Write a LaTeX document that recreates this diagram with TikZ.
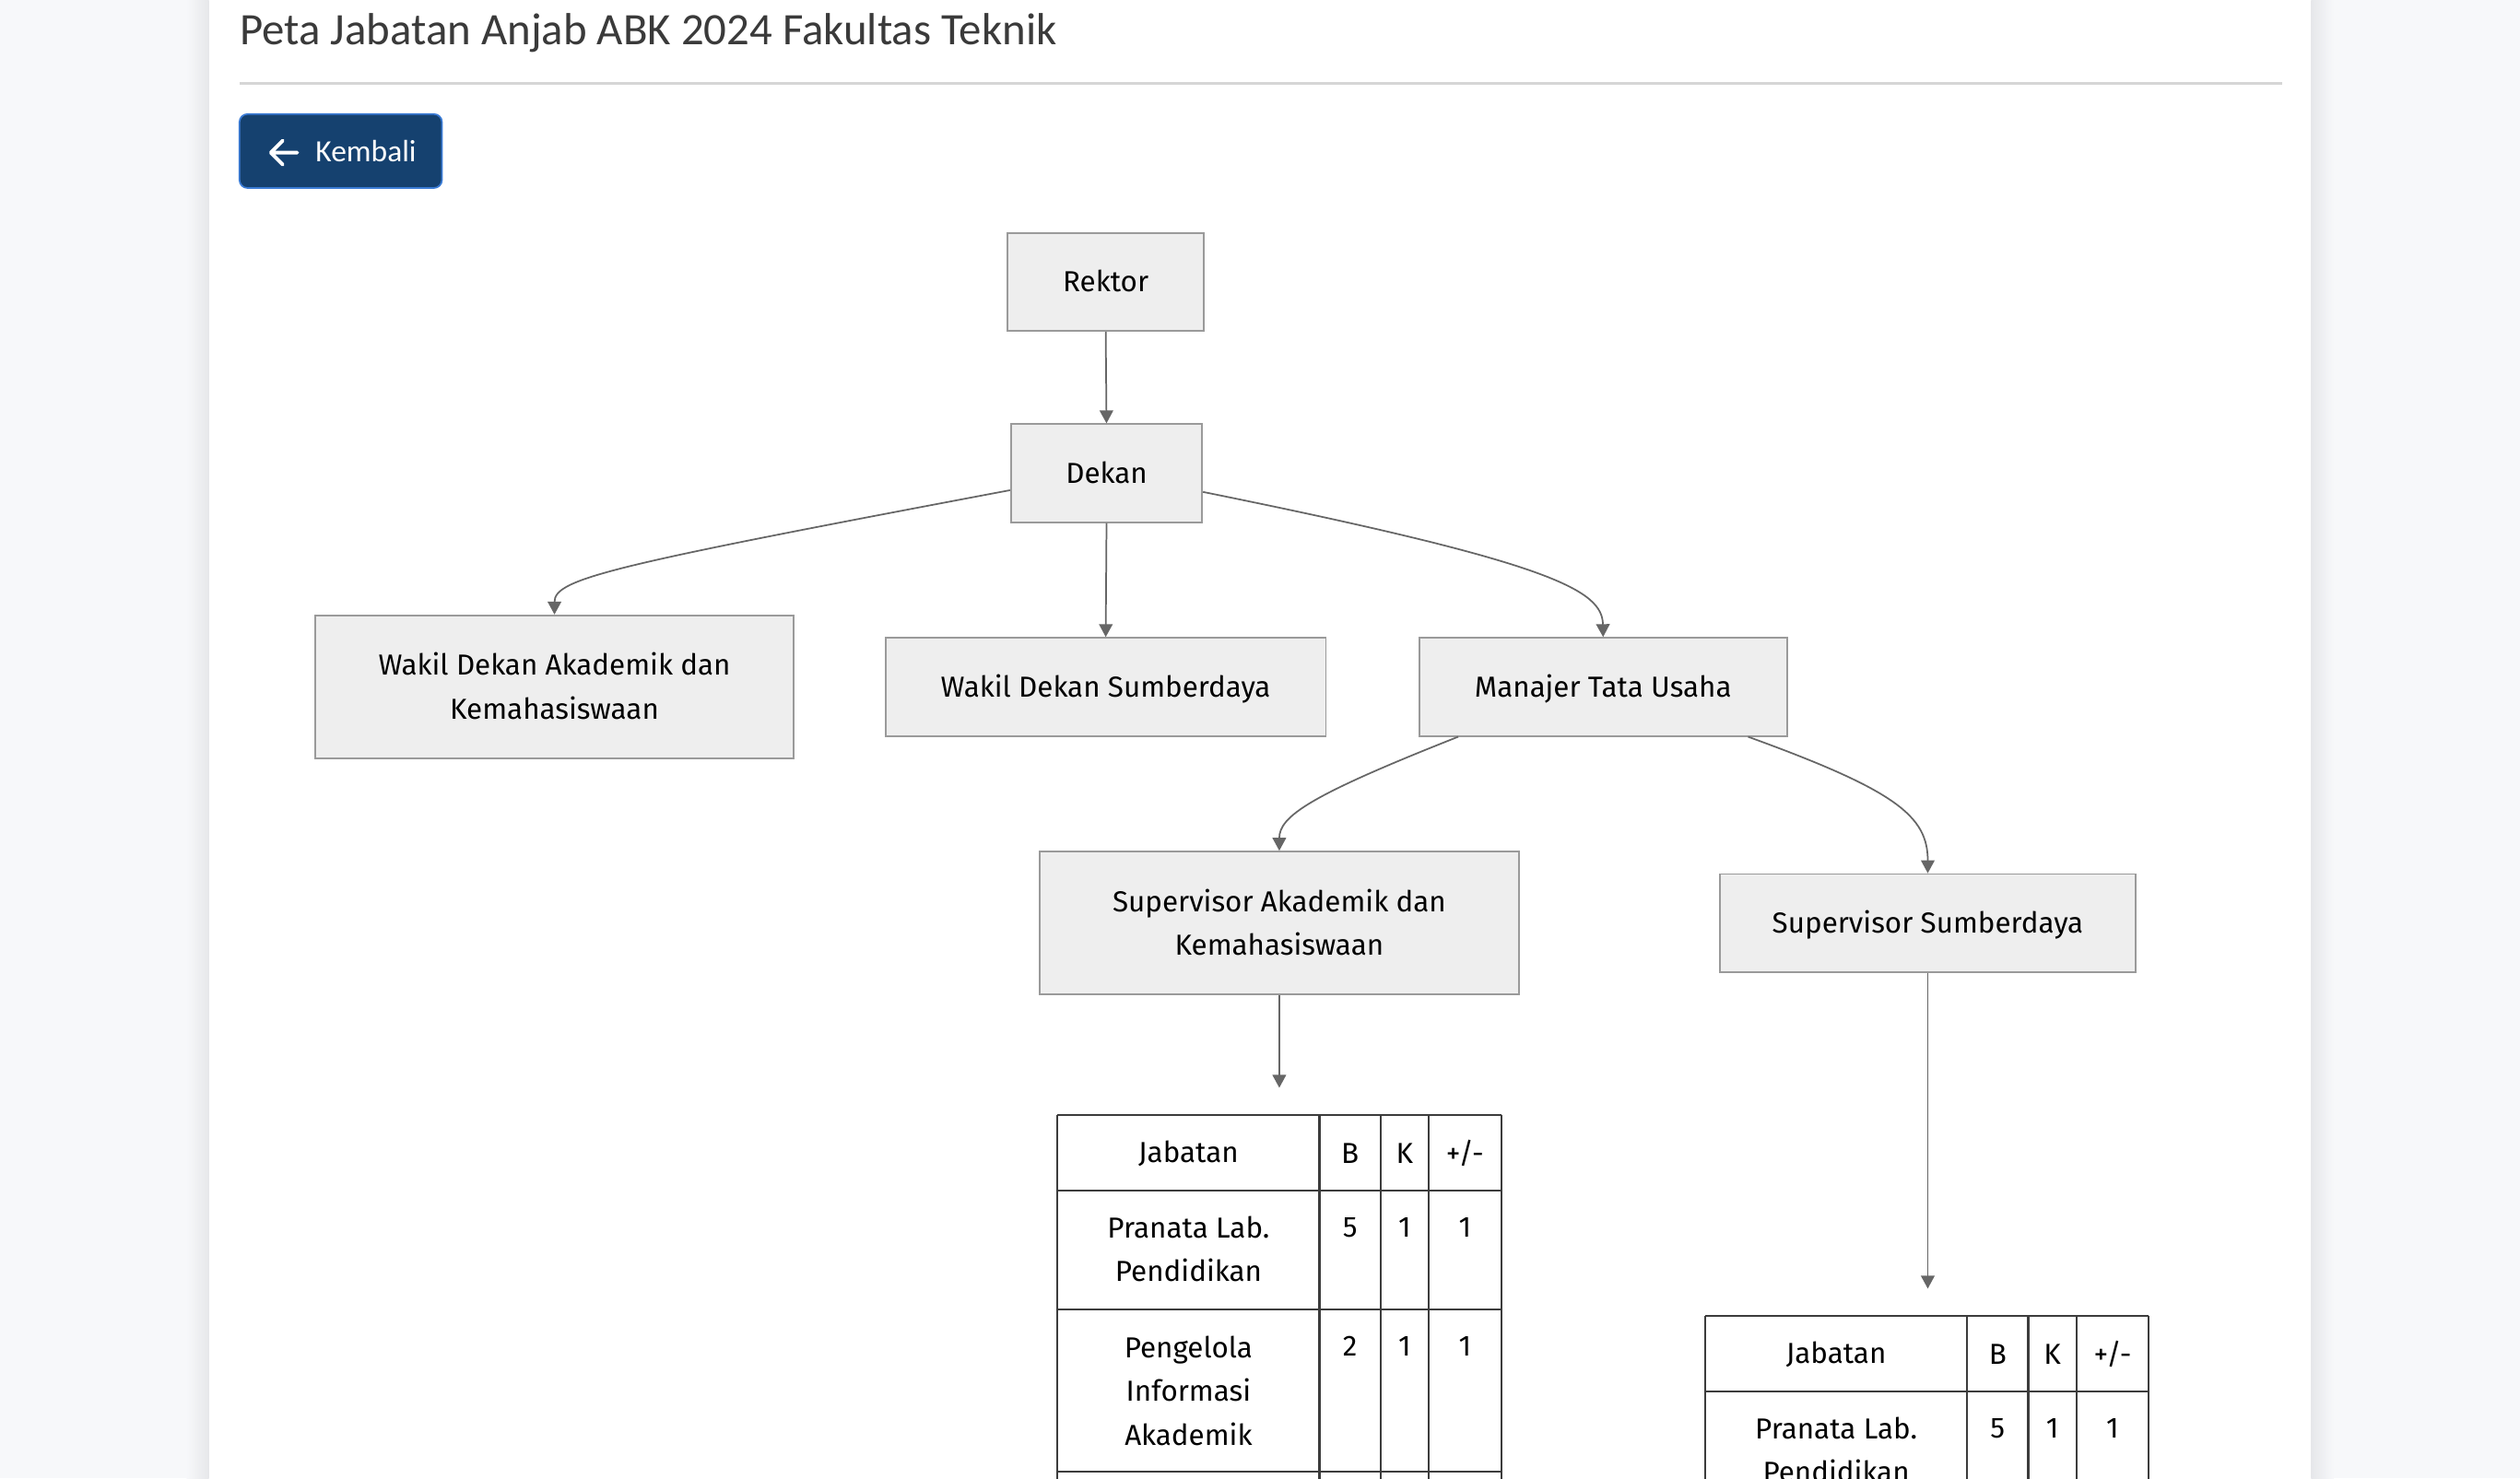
\documentclass[tikz,border=0pt]{standalone}
\usepackage{fontspec}
\setmainfont{Fira Sans}
\newfontfamily\titlef{Carlito}
\usetikzlibrary{arrows.meta,calc}
\definecolor{pagebg}{HTML}{F7F8FA}
\definecolor{shadowc}{HTML}{E6E7EA}
\definecolor{boxfill}{HTML}{EEEEEE}
\definecolor{boxline}{HTML}{9A9A9A}
\definecolor{edgec}{HTML}{666666}
\definecolor{tabline}{HTML}{3C3C3C}
\definecolor{btnfill}{HTML}{15416F}
\definecolor{btnline}{HTML}{3A7BD5}
\definecolor{rulec}{HTML}{D6D6D6}
\definecolor{titlec}{HTML}{3A3A3A}
\begin{document}
\begin{tikzpicture}[x=0.5pt,y=-0.5pt,
  orgbox/.style={draw=boxline,fill=boxfill,line width=0.55pt,inner sep=0pt,align=center,
    text depth=0.6pt,font=\fontsize{9}{13.6}\selectfont},
  conn/.style={draw=edgec,line width=0.5pt,-{Triangle[length=4pt,width=4.2pt]}},
  tabtxt/.style={inner sep=0pt,align=center,font=\fontsize{9}{13.6}\selectfont,text=black},
  tabgrid/.style={draw=tabline,line width=0.6pt}]
\useasboundingbox (0,0) rectangle (1568,920);
\clip (0,0) rectangle (1568,920);
% page background and card
\fill[pagebg] (0,0) rectangle (1568,920);
\shade[left color=pagebg,right color=shadowc] (116,0) rectangle (130,920);
\shade[left color=shadowc,right color=pagebg] (1438,0) rectangle (1452,920);
\fill[white] (130,0) rectangle (1438,920);
% title
\node[anchor=base west,inner sep=0pt,text=titlec,font=\titlef\fontsize{14}{16}\selectfont] (title) at (149,28) {Peta Jabatan Anjab ABK 2024 Fakultas Teknik};
\draw[rulec,line width=0.7pt] (149,52) -- (1420,52);
% back button
\node[draw=btnline,fill=btnfill,rounded corners=2.5pt,line width=0.5pt,minimum width=63pt,minimum height=23pt,inner sep=0pt] (back) at (212,94) {};
\node[anchor=west,inner sep=0pt,text=white,font=\titlef\fontsize{9.6}{11}\selectfont] (backlbl) at (196,94) {Kembali};
\draw[white,line width=1.1pt,line cap=round,line join=round] (185,95) -- (169,95) (176,87.5) -- (168.5,95) -- (176,102.5);
% org nodes
\node[orgbox,minimum width=61pt,minimum height=30.5pt] (rektor) at (688,175.5) {Rektor};
\node[orgbox,minimum width=59.5pt,minimum height=30.5pt] (dekan) at (688.5,294.5) {Dekan};
\node[orgbox,minimum width=149pt,minimum height=44.5pt] (wdak) at (345,427.5) {Wakil Dekan Akademik dan\\Kemahasiswaan};
\node[orgbox,minimum width=137pt,minimum height=30.5pt] (wds) at (688,427.5) {Wakil Dekan Sumberdaya};
\node[orgbox,minimum width=114.5pt,minimum height=30.5pt] (mtu) at (997.5,427.5) {Manajer Tata Usaha};
\node[orgbox,minimum width=149pt,minimum height=44.5pt] (sak) at (796,574.5) {Supervisor Akademik dan\\Kemahasiswaan};
\node[orgbox,minimum width=129.5pt,minimum height=30.5pt] (ss) at (1199.5,574.5) {Supervisor Sumberdaya};
\coordinate (tabA) at (796,677);
\coordinate (tabB) at (1199.5,802);
% connectors
\draw[conn] (rektor.south) -- (dekan.north);
\draw[conn] (dekan.south) -- (wds.north);
\draw[conn] (dekan.190) .. controls (380,352) and (345,360) .. (wdak.north);
\draw[conn] (dekan.-11) .. controls (965,350) and (997,367) .. (mtu.north);
\draw[conn] (mtu.199.6) .. controls (815,495) and (796,508) .. (sak.north);
\draw[conn] (mtu.-19.6) .. controls (1180,492) and (1199.5,508) .. (ss.north);
\draw[conn] (sak.south) -- (tabA);
\draw[conn] (ss.south) -- (tabB);
% table A
\draw[tabgrid] (658,694) -- (934,694) (658,741) -- (934,741) (658,815) -- (934,815) (658,916) -- (934,916);
\draw[tabgrid] (658,694) -- (658,930) (821,694) -- (821,930) (859,694) -- (859,930) (889,694) -- (889,930) (934,694) -- (934,930);
\node[tabtxt] (a00) at (739.5,718) {Jabatan};
\node[tabtxt] (a01) at (840,718) {B};
\node[tabtxt] (a02) at (874,718) {K};
\node[tabtxt] (a03) at (911.5,718) {+/-};
\node[tabtxt] (a10) at (739.5,777.5) {Pranata Lab.\\Pendidikan};
\node[tabtxt] (a11) at (840,764) {5};
\node[tabtxt] (a12) at (874,764) {1};
\node[tabtxt] (a13) at (911.5,764) {1};
\node[tabtxt] (a20) at (739.5,865.5) {Pengelola\\Informasi\\Akademik};
\node[tabtxt] (a21) at (840,838) {2};
\node[tabtxt] (a22) at (874,838) {1};
\node[tabtxt] (a23) at (911.5,838) {1};
% table B
\draw[tabgrid] (1061,819) -- (1337,819) (1061,866) -- (1337,866);
\draw[tabgrid] (1061,819) -- (1061,930) (1224,819) -- (1224,930) (1262,819) -- (1262,930) (1292,819) -- (1292,930) (1337,819) -- (1337,930);
\node[tabtxt] (b00) at (1142.5,843) {Jabatan};
\node[tabtxt] (b01) at (1243,843) {B};
\node[tabtxt] (b02) at (1277,843) {K};
\node[tabtxt] (b03) at (1314.5,843) {+/-};
\node[tabtxt] (b10) at (1142.5,902.5) {Pranata Lab.\\Pendidikan};
\node[tabtxt] (b11) at (1243,889) {5};
\node[tabtxt] (b12) at (1277,889) {1};
\node[tabtxt] (b13) at (1314.5,889) {1};
\end{tikzpicture}
\end{document}
